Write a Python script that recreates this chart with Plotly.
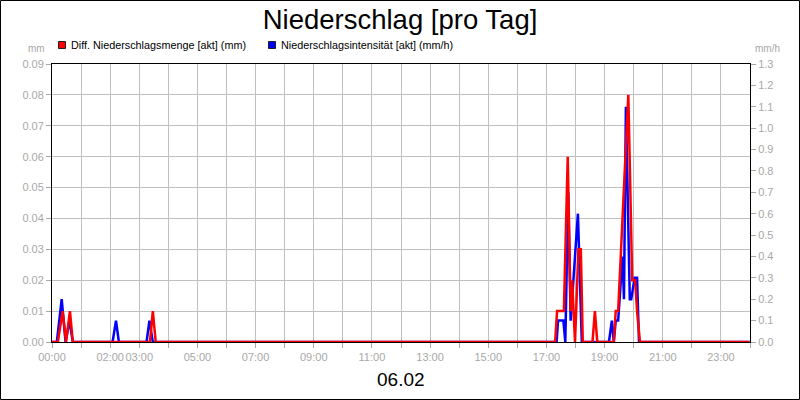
import plotly.graph_objects as go

# Niederschlag 06.02
FONT = "Liberation Sans, Arial, sans-serif"
GRAY = "#A8A8A8"
GRID = "#C0C0C0"

# Diff. Niederschlagsmenge [akt] (mm)
rain_times = [
    "00:00", "00:12", "00:22", "00:29", "00:37", "00:43",
    "03:22", "03:28", "03:34",
    "17:18", "17:22", "17:36", "17:44", "17:50", "17:53", "17:59",
    "18:06", "18:11", "18:15", "18:35", "18:40", "18:45",
    "19:19", "19:23", "19:28", "19:34", "19:49", "19:57",
    "20:03", "20:07", "20:13", "23:59",
]
rain_mm = [
    0, 0, 0.01, 0, 0.01, 0,
    0, 0.01, 0,
    0, 0.01, 0.01, 0.06, 0.01, 0.02, 0,
    0.03, 0.03, 0, 0, 0.01, 0,
    0, 0.01, 0.01, 0.03, 0.08, 0.02,
    0.02, 0.01, 0, 0,
]

# Niederschlagsintensität [akt] (mm/h)
intens_times = [
    "00:00", "00:10", "00:20", "00:28", "00:36", "00:43",
    "02:05", "02:12", "02:18",
    "03:15", "03:21", "03:28",
    "17:21", "17:24", "17:35", "17:39", "17:45", "17:50", "17:53",
    "18:05", "18:13",
    "19:09", "19:15", "19:19", "19:23", "19:28", "19:37", "19:40",
    "19:44", "19:52", "19:55", "20:02", "20:07", "20:11", "23:59",
]
intens_mmh = [
    0, 0, 0.2, 0, 0.1, 0,
    0, 0.1, 0,
    0, 0.1, 0,
    0, 0.1, 0.1, 0, 0.7, 0.1, 0.2,
    0.6, 0,
    0, 0.1, 0, 0.1, 0.1, 0.4, 0.2,
    1.1, 0.2, 0.2, 0.3, 0.3, 0, 0,
]

labeled_hours = [0, 2, 3, 5, 7, 9, 11, 13, 15, 17, 19, 21, 23]
day_label = "06.02"

# plot area in pixels
L, T, W, H = 52, 64, 698, 278


def to_hours(t):
    h, m = t.split(":")
    return int(h) + int(m) / 60


def px_x(p):
    return (p - L) / W


def px_y(p):
    return (T + H - p) / H


fig = go.Figure()

fig.add_trace(go.Scatter(
    x=[to_hours(t) for t in intens_times],
    y=intens_mmh,
    mode="lines",
    name="Niederschlagsintensität [akt] (mm/h)",
    line=dict(color="#0000FF", width=2.5),
    yaxis="y",
))

fig.add_trace(go.Scatter(
    x=[to_hours(t) for t in rain_times],
    y=rain_mm,
    mode="lines",
    name="Diff. Niederschlagsmenge [akt] (mm)",
    line=dict(color="#FF0000", width=2.5),
    yaxis="y2",
))

tickvals = list(range(0, 25))
ticktext = [f"{h:02d}:00" if h in labeled_hours else "" for h in tickvals]

axis_common = dict(
    showline=True, linecolor="black", linewidth=1,
    ticks="outside", ticklen=5, tickcolor=GRAY,
    tickfont=dict(family=FONT, size=11, color=GRAY),
    zeroline=False, automargin=False,
)

fig.update_layout(
    width=800, height=400,
    margin=dict(l=L, r=800 - L - W, t=T, b=400 - T - H, autoexpand=False),
    paper_bgcolor="white", plot_bgcolor="white",
    font=dict(family=FONT, color="black"),
    showlegend=False,
    hovermode=False,
    title=dict(
        text="Niederschlag [pro Tag]",
        x=0.5, xanchor="center", y=1 - 19 / 400, yanchor="middle",
        font=dict(family=FONT, size=27.5, color="black"),
    ),
    xaxis=dict(
        range=[0, 24], tickvals=tickvals, ticktext=ticktext, tickangle=0,
        showgrid=True, gridcolor=GRID, mirror=True,
        **axis_common,
    ),
    yaxis=dict(
        side="right", range=[0, 1.3], dtick=0.1, tickformat=".1f",
        showgrid=False, mirror=True,
        **axis_common,
    ),
    yaxis2=dict(
        side="left", overlaying="y", range=[0, 0.09], dtick=0.01, tickformat=".2f",
        showgrid=True, gridcolor=GRID,
        **axis_common,
    ),
)

# date below the x axis
fig.add_annotation(
    xref="paper", yref="paper", x=0.5, y=px_y(379),
    xanchor="center", yanchor="middle", showarrow=False,
    text=day_label, font=dict(family=FONT, size=19, color="black"),
)

# legend squares and texts
legend_items = [
    (58.5, "#FF0000", "Diff. Niederschlagsmenge [akt] (mm)"),
    (268.5, "#0000FF", "Niederschlagsintensität [akt] (mm/h)"),
]
for x0, color, label in legend_items:
    fig.add_shape(
        type="rect", xref="paper", yref="paper",
        x0=px_x(x0), x1=px_x(x0 + 7), y0=px_y(48.5), y1=px_y(41.5),
        fillcolor=color, line=dict(color="#202020", width=1),
    )
    fig.add_annotation(
        xref="paper", yref="paper", x=px_x(x0 + 10.5), y=px_y(45),
        xanchor="left", yanchor="middle", showarrow=False,
        text=label, font=dict(family=FONT, size=10.8, color="black"),
    )

# axis unit labels
fig.add_annotation(
    xref="paper", yref="paper", x=px_x(47), y=px_y(49),
    xanchor="right", yanchor="middle", showarrow=False,
    text="mm", font=dict(family=FONT, size=10, color=GRAY),
)
fig.add_annotation(
    xref="paper", yref="paper", x=px_x(753), y=px_y(49),
    xanchor="left", yanchor="middle", showarrow=False,
    text="mm/h", font=dict(family=FONT, size=10, color=GRAY),
)

# outer frame
fig.add_shape(
    type="rect", xref="paper", yref="paper",
    x0=px_x(0.5), x1=px_x(799.5), y0=px_y(399.5), y1=px_y(0.5),
    line=dict(color="black", width=1), fillcolor="rgba(0,0,0,0)",
)

# drop the default 8px body margin so the 800x400 figure fills the window
fig.write_html(
    "out.html",
    config={"displayModeBar": False},
    post_script="document.body.style.margin='0';document.body.style.overflow='hidden';",
)
